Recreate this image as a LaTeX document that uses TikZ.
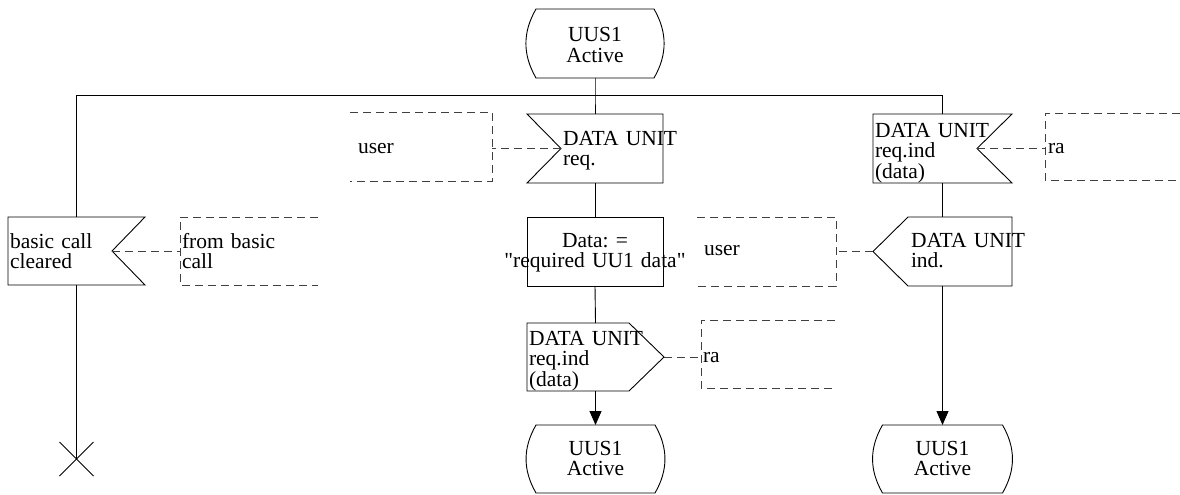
\documentclass[tikz,border=0pt]{standalone}
\usepackage{fontspec}
\setmainfont{Liberation Serif}
\newfontfamily\diagfont{Liberation Serif}
\frenchspacing
\usetikzlibrary{arrows.meta,calc}
\begin{document}
\begin{tikzpicture}[x=1pt,y=-1pt,
  shp/.style 2 args={rectangle,inner sep=0pt,outer sep=0pt,minimum width=#1,minimum height=#2},
  outl/.style={draw=black,line width=0.9pt,line join=miter},
  dsh/.style={draw=black!75,line width=0.9pt,dash pattern=on 8pt off 5pt},
  flow/.style={draw=black,line width=0.9pt},
  arr/.style={flow,-{Triangle[length=14pt,width=12pt]}},
  txt/.style={font=\diagfont\fontsize{21.5}{20.5}\selectfont\frenchspacing,inner sep=0pt,outer sep=0pt},
  lbl/.style={txt,text width=170pt,align=left,anchor=base west},
  clbl/.style={txt,text width=230pt,align=center,anchor=base},
]
\useasboundingbox (0,0) rectangle (1180,495);

% ---- symbol frames ----
\node[shp={136}{69}] (s0)   at (595,43.5) {};
\node[shp={136}{69}] (in1)  at (595,148.5) {};
\node[shp={136}{69},outl] (task) at (595,251.5) {};
\node[shp={137}{68}] (out1) at (595.5,357) {};
\node[shp={137}{68}] (s1)   at (595.5,459) {};
\node[shp={137}{68}] (in2)  at (76.5,251) {};
\node[shp={139}{69}] (in3)  at (942.5,148.5) {};
\node[shp={139}{69}] (out2) at (942.5,251.5) {};
\node[shp={138}{68}] (s2)   at (942.5,459) {};

% ---- comment/text frames (dashed, open on one side) ----
\node[shp={142}{69}] (ubox1) at (421,146.5) {};
\node[shp={138}{68}] (fbox)  at (249,251) {};
\node[shp={139}{69}] (ubox2) at (766.5,251.5) {};
\node[shp={135}{67}] (rbox1) at (1112.5,146.5) {};
\node[shp={134}{68}] (rbox2) at (768,354) {};

% notch tips of the input symbols
\coordinate (in1tip) at ($(in1.west)+(34,0)$);
\coordinate (in2tip) at ($(in2.east)+(-33,0)$);
\coordinate (in3tip) at ($(in3.east)+(-35,0)$);

% ---- states ----
\foreach \n in {s0,s1,s2}{
  \draw[outl] ($(\n.north west)+(9,0)$) -- ($(\n.north east)+(-9,0)$)
    to[out=-60,in=60] ($(\n.south east)+(-9,0)$) -- ($(\n.south west)+(9,0)$)
    to[out=120,in=-120] ($(\n.north west)+(9,0)$) -- cycle;
}

% ---- inputs ----
\draw[outl] (in1.north west) -- (in1.north east) -- (in1.south east)
  -- (in1.south west) -- (in1tip) -- cycle;
\draw[outl] (in2.north west) -- (in2.north east) -- (in2tip)
  -- (in2.south east) -- (in2.south west) -- cycle;
\draw[outl] (in3.north west) -- (in3.north east) -- (in3tip)
  -- (in3.south east) -- (in3.south west) -- cycle;

% ---- outputs ----
\draw[outl] (out1.north west) -- ($(out1.north east)+(-35,0)$) -- (out1.east)
  -- ($(out1.south east)+(-35,0)$) -- (out1.south west) -- cycle;
\draw[outl] (out2.north east) -- ($(out2.north west)+(35,0)$) -- (out2.west)
  -- ($(out2.south west)+(35,0)$) -- (out2.south east) -- cycle;

% ---- dashed text frames ----
\draw[dsh] (ubox1.north west) -- (ubox1.north east) -- (ubox1.south east) -- (ubox1.south west);
\draw[dsh] (ubox2.north west) -- (ubox2.north east) -- (ubox2.south east) -- (ubox2.south west);
\draw[dsh] (fbox.north east) -- (fbox.north west) -- (fbox.south west) -- (fbox.south east);
\draw[dsh] (rbox1.north east) -- (rbox1.north west) -- (rbox1.south west) -- (rbox1.south east);
\draw[dsh] (rbox2.north east) -- (rbox2.north west) -- (rbox2.south west) -- (rbox2.south east);

% ---- dashed associations ----
\draw[dsh] (in1tip) -- (in1tip -| ubox1.east);
\draw[dsh] (in2tip) -- (in2tip -| fbox.west);
\draw[dsh] (in3tip) -- (in3tip -| rbox1.west);
\draw[dsh] (out1.east) -- (out1.east -| rbox2.west);
\draw[dsh] (out2.west) -- (out2.west -| ubox2.east);

% ---- flow lines ----
\coordinate (split) at (595,95.5);
\coordinate (stop) at (76.5,459);
\draw[flow] (s0.south) -- (split) -- (in1.north);
\draw[flow] (in2.north) |- (split) -| (in3.north);
\draw[flow] (in1.south) -- (task.north);
\draw[flow] (task.south) -- (out1.north);
\draw[arr] (out1.south) -- (s1.north);
\draw[flow] (in3.south) -- (out2.north);
\draw[arr] (out2.south) -- (s2.north);
\draw[flow] (in2.south) -- (stop);
\draw[flow] ($(stop)+(-17,-17)$) -- ($(stop)+(17,17)$);
\draw[flow] ($(stop)+(-17,17)$) -- ($(stop)+(17,-17)$);

% ---- texts ----
\node[clbl] (t-s0) at (595,42) {UUS1\\Active};
\node[lbl] (t-in1) at (563,145) {DATA UNIT\\req.};
\node[lbl] (t-u1) at (358,153) {user};
\node[lbl] (t-in2) at (10,248) {basic call\\cleared};
\node[lbl] (t-fb) at (182,248) {from basic\\call};
\node[clbl] (t-task) at (595,247) {Data: =\\"required UU1 data"};
\node[lbl] (t-u2) at (704,255) {user};
\node[lbl] (t-out2) at (911,247) {DATA UNIT\\ind.};
\node[lbl] (t-in3) at (875,137) {DATA UNIT\\req.ind\\(data)};
\node[lbl] (t-ra1) at (1048,153) {ra};
\node[lbl] (t-out1) at (529,345) {DATA UNIT\\req.ind\\(data)};
\node[lbl] (t-ra2) at (703,362) {ra};
\node[clbl] (t-s1) at (595.5,455) {UUS1\\Active};
\node[clbl] (t-s2) at (942.5,455) {UUS1\\Active};
\end{tikzpicture}
\end{document}
